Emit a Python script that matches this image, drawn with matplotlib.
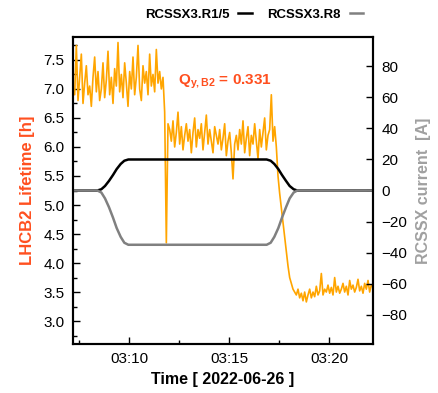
import matplotlib
matplotlib.use("Agg")
import matplotlib.pyplot as plt
import matplotlib.dates as mdates
import pandas as pd

plt.rcParams['font.family'] = ['Liberation Sans', 'DejaVu Sans']
plt.rcParams['mathtext.fontset'] = 'custom'
plt.rcParams['mathtext.rm'] = 'Liberation Sans'
plt.rcParams['mathtext.bf'] = 'Liberation Sans:bold'
plt.rcParams['mathtext.it'] = 'Liberation Sans:italic'

# lifetime samples, every 5 s from 03:07:12
lifetime_start = '2022-06-26 03:07:12'
lifetime_step_s = 5
lifetime = [
    7.0, 6.9, 7.75, 6.8, 7.2, 7.6, 6.75, 7.1, 7.4, 6.9,
    7.05, 6.7, 7.2, 7.55, 6.95, 7.3, 6.8, 7.0, 7.45, 6.85,
    7.15, 7.65, 6.9, 7.2, 6.75, 7.35, 7.05, 7.8, 6.95, 7.25,
    6.85, 7.45, 7.1, 6.7, 7.3, 7.0, 7.55, 6.9, 7.2, 7.75,
    7.0, 6.8, 7.4, 7.1, 7.3, 6.9, 7.6, 7.05, 7.25, 6.95,
    7.68, 7.1, 7.3, 7.0, 7.2,
    6.6, 4.35, 6.4,
    6.3, 6.1, 6.45, 6.0, 6.25, 6.6, 6.05, 6.35, 5.95, 6.2,
    6.4, 6.1, 6.3, 5.9, 6.25, 6.5, 6.0, 6.3, 6.15, 6.4,
    5.95, 6.25, 6.55, 6.05, 6.3, 6.1, 5.9, 6.35, 6.2, 6.05,
    6.3, 5.95, 6.15, 6.4, 5.85, 6.1, 6.25, 5.9, 5.45, 6.05,
    6.2, 5.95, 6.3, 6.05, 6.45, 5.9, 6.15, 6.35, 5.85, 6.2,
    6.05, 6.4, 6.1, 5.8, 6.3, 6.0, 6.25, 6.5, 5.95, 6.2,
    6.3, 6.9, 6.1, 6.35,
    6.0, 5.5, 5.2, 4.95, 4.7, 4.45, 4.2, 3.95, 3.75, 3.65, 3.55,
    3.5, 3.45, 3.55, 3.4, 3.48, 3.35, 3.5, 3.33, 3.45, 3.55,
    3.4, 3.5, 3.42, 3.6, 3.45, 3.52, 3.82, 3.45, 3.55, 3.5,
    3.62, 3.48, 3.58, 3.45, 3.75, 3.5, 3.6, 3.48, 3.55, 3.65,
    3.5, 3.6, 3.45, 3.7, 3.55, 3.62, 3.5, 3.58, 3.72, 3.52,
    3.6, 3.48, 3.65, 3.55, 3.7, 3.5, 3.62, 3.58,
]

# corrector currents
current_times = [
    '03:07:12', '03:08:25', '03:08:37', '03:08:48', '03:09:00', '03:09:12',
    '03:09:23', '03:09:35', '03:09:46', '03:09:58',
    '03:16:53', '03:17:05', '03:17:16', '03:17:28', '03:17:39', '03:17:51',
    '03:18:02', '03:18:14', '03:18:25', '03:22:12',
]
current_r15 = [0, 0, 0.8, 2.9, 6.2, 10, 13.8, 17.1, 19.2, 20,
               20, 19.2, 17.1, 13.8, 10, 6.2, 2.9, 0.8, 0, 0]
current_r8 = [0, 0, -1.3, -5.1, -10.8, -17.5, -24.2, -29.9, -33.7, -35,
              -35, -33.7, -29.9, -24.2, -17.5, -10.8, -5.1, -1.3, 0, 0]

lt_color = '#ff4f1f'
x_lim = ['2022-06-26 03:07:12', '2022-06-26 03:22:12']

t_life = pd.date_range(lifetime_start, periods=len(lifetime), freq=f'{lifetime_step_s}s')
t_cur = pd.to_datetime(['2022-06-26 ' + t for t in current_times])

fig = plt.figure(figsize=(4.38, 3.93), dpi=100)
ax1 = fig.add_axes([73 / 438, 49 / 393, 300 / 438, 307 / 393])
ax2 = ax1.twinx()

ax1.plot(t_life, lifetime, color='#ffa500', lw=1.2)
l1, = ax2.plot(t_cur, current_r15, color='black', lw=1.8)
l2, = ax2.plot(t_cur, current_r8, color='#808080', lw=1.8)

ax1.set_xlim(pd.to_datetime(x_lim[0]), pd.to_datetime(x_lim[1]))
ax1.set_ylim(2.605, 7.895)
ax2.set_ylim(-99, 99)

ax1.set_yticks([3.0, 3.5, 4.0, 4.5, 5.0, 5.5, 6.0, 6.5, 7.0, 7.5])
ax1.set_yticks([2.75 + 0.25 * k for k in range(21)], minor=True)
ax2.set_yticks([-80, -60, -40, -20, 0, 20, 40, 60, 80])

ax1.xaxis.set_major_locator(mdates.MinuteLocator(byminute=range(0, 60, 5)))
ax1.xaxis.set_major_formatter(mdates.DateFormatter('%H:%M'))
ax1.set_xticks(pd.date_range('2022-06-26 03:07:30', '2022-06-26 03:22:00', freq='150s'), minor=True)

ax1.tick_params(axis='both', which='major', direction='in', length=5, width=1, labelsize=11, pad=6)
ax1.tick_params(axis='both', which='minor', direction='in', length=3, width=1)
ax2.tick_params(axis='y', which='major', direction='in', length=5, width=1, labelsize=11, pad=6)

for ax in (ax1, ax2):
    for s in ax.spines.values():
        s.set_linewidth(1.5)

ax1.set_xlabel('Time [ 2022-06-26 ]', fontsize=11.5, fontweight='bold', labelpad=4)
ax1.set_ylabel('LHCB2 Lifetime [h]', fontsize=12, fontweight='bold', color=lt_color, labelpad=6)
ax2.set_ylabel('RCSSX current  [A]', fontsize=11.5, fontweight='bold', color='#a0a0a0', labelpad=6)

ax1.text(0.35, 0.853, r'$\mathbf{Q_{y,B2}}$ = 0.331', transform=ax1.transAxes,
         color=lt_color, fontsize=11, fontweight='bold', va='center', ha='left')

fig.legend([l1, l2], ['RCSSX3.R1/5', 'RCSSX3.R8'], loc='center', bbox_to_anchor=(254 / 438, 0.962),
           ncol=2, markerfirst=False, frameon=False, handlelength=1.0, columnspacing=1.2,
           handletextpad=0.7, prop={'weight': 'bold', 'size': 9.5})

fig.savefig('out.png', dpi=100)
